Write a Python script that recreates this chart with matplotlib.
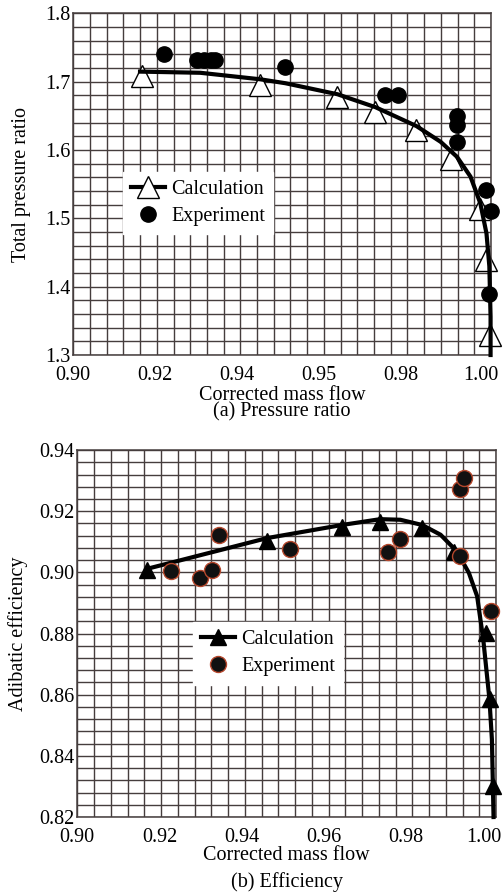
import numpy as np
import matplotlib
matplotlib.use('Agg')
from matplotlib import pyplot as plt
from matplotlib.transforms import ScaledTranslation

plt.rcParams['font.family'] = ['Liberation Serif', 'DejaVu Serif']
plt.rcParams['font.size'] = 14.5

# (a) 压比 - 计算点
calc_a_x = [0.9167, 0.9456, 0.9645, 0.9737, 0.9838, 0.9923, 0.9993, 1.0009, 1.0017]
calc_a_y = [1.708, 1.695, 1.678, 1.656, 1.629, 1.587, 1.513, 1.439, 1.330]
# 计算曲线
curve_a_x = [0.9163, 0.9310, 0.9456, 0.9518, 0.9645, 0.9738, 0.9838, 0.9897, 0.9937,
             0.9970, 0.9994, 1.0009, 1.0016, 1.0019, 1.0019]
curve_a_y = [1.7147, 1.713, 1.7035, 1.6977, 1.6816, 1.6626, 1.635, 1.612, 1.590,
             1.561, 1.522, 1.478, 1.430, 1.356, 1.300]
# 实验点
exp_a_x = [0.9222, 0.9302, 0.9320, 0.9336, 0.9346, 0.9518, 0.9760, 0.9792,
           0.9936, 0.9936, 0.9936, 1.0007, 1.0021, 1.0015]
exp_a_y = [1.740, 1.731, 1.731, 1.731, 1.731, 1.722, 1.681, 1.681,
           1.650, 1.637, 1.611, 1.542, 1.511, 1.390]

# (b) 效率
calc_b_x = [0.9169, 0.9462, 0.9645, 0.9738, 0.9840, 0.9917, 0.9996, 1.0005, 1.0012]
calc_b_y = [0.9009, 0.9101, 0.9148, 0.9166, 0.9145, 0.9068, 0.8802, 0.8585, 0.8302]
curve_b_x = [0.9177, 0.9462, 0.9645, 0.9738, 0.9787, 0.9840, 0.9885, 0.9925, 0.9954,
             0.9974, 0.9989, 1.0004, 1.0010, 1.0014]
curve_b_y = [0.9014, 0.9112, 0.9155, 0.9174, 0.9172, 0.9155, 0.9123, 0.9068, 0.8998,
             0.8922, 0.8780, 0.8585, 0.8454, 0.8200]
exp_b_x = [0.9228, 0.9299, 0.9328, 0.9344, 0.9517, 0.9757, 0.9785, 0.9932, 0.9942,
           0.9933, 1.0008]
exp_b_y = [0.9006, 0.8982, 0.9009, 0.9121, 0.9076, 0.9068, 0.9109, 0.9272, 0.9308,
           0.9054, 0.8873]

x_ticks = [0.90, 0.92, 0.94, 0.96, 0.98, 1.00]
x_labels_a = ['0.90', '0.92', '0.94', '0.95', '0.98', '1.00']
x_labels_b = ['0.90', '0.92', '0.94', '0.96', '0.98', '1.00']
y_ticks_a = [1.3, 1.4, 1.5, 1.6, 1.7, 1.8]
y_ticks_b = [0.82, 0.84, 0.86, 0.88, 0.90, 0.92, 0.94]

grid_color = '#453d3d'

fig = plt.figure(figsize=(5.03, 8.94), dpi=100)
ax1 = fig.add_axes([0.1457, 0.6029, 0.8304, 0.3822])
ax2 = fig.add_axes([0.1537, 0.0861, 0.8324, 0.4105])


def style_axes(ax, xlim, ylim, ystep):
    ax.set_xlim(*xlim)
    ax.set_ylim(*ylim)
    # 网格
    for gx in np.linspace(xlim[0], xlim[1], 26):
        ax.axvline(gx, color=grid_color, lw=1.0, zorder=0)
    for gy in np.arange(ylim[0], ylim[1] + ystep / 2, ystep):
        ax.axhline(gy, color=grid_color, lw=1.0, zorder=0)
    for s in ax.spines.values():
        s.set_color(grid_color)
        s.set_linewidth(1.1)
    ax.tick_params(axis='y', length=0, pad=2, labelsize=14.5)
    ax.tick_params(axis='x', length=0, pad=8, labelsize=14.5)


def nudge_last_xlabel(ax, dx_pt):
    lab = ax.get_xticklabels()[-1]
    lab.set_transform(lab.get_transform() + ScaledTranslation(dx_pt / 72, 0, fig.dpi_scale_trans))


# 图(a)
style_axes(ax1, (0.90, 1.002), (1.3, 1.8), 0.02)
ax1.plot(curve_a_x, curve_a_y, color='black', lw=3, zorder=3, clip_on=False)
ax1.plot(calc_a_x, calc_a_y, linestyle='none', marker='^', ms=16, mfc='white',
         mec='black', mew=1, zorder=2, clip_on=False)
ax1.plot(exp_a_x, exp_a_y, linestyle='none', marker='o', ms=11, color='black',
         zorder=4, clip_on=False)
h1, = ax1.plot([], [], color='black', lw=3, marker='^', ms=16, mfc='white', mec='black', mew=1)
h2, = ax1.plot([], [], linestyle='none', marker='o', ms=11, color='black')
leg1 = ax1.legend([h1, h2], ['Calculation', 'Experiment'], loc='upper left',
                  bbox_to_anchor=(0.119, 0.536), borderaxespad=0, numpoints=1,
                  handlelength=1.7, handletextpad=0.3, labelspacing=0.4,
                  borderpad=0.4, fancybox=False, framealpha=1, edgecolor='white',
                  fontsize=14.5)
leg1.set_zorder(5)
ax1.set_xticks(x_ticks)
ax1.set_xticklabels(x_labels_a)
nudge_last_xlabel(ax1, -1.5)
ax1.set_yticks(y_ticks_a)
ax1.set_yticklabels([f'{v:.1f}' for v in y_ticks_a])
ax1.set_ylabel('Total pressure ratio', fontsize=14.5, labelpad=10)
ax1.set_xlabel('Corrected mass flow\n(a) Pressure ratio', fontsize=14.5, labelpad=0.5,
               linespacing=0.85)

# 图(b)
style_axes(ax2, (0.90, 1.002), (0.82, 0.94), 0.004)
ax2.plot(curve_b_x, curve_b_y, color='black', lw=3, zorder=3, clip_on=False)
ax2.plot(calc_b_x, calc_b_y, linestyle='none', marker='^', ms=11, color='black',
         zorder=3, clip_on=False)
ax2.plot(exp_b_x, exp_b_y, linestyle='none', marker='o', ms=11.5, mfc='#111111',
         mec='#b4472c', mew=1, zorder=4, clip_on=False)
h3, = ax2.plot([], [], color='black', lw=3, marker='^', ms=11)
h4, = ax2.plot([], [], linestyle='none', marker='o', ms=11.5, mfc='#111111', mec='#b4472c', mew=1)
leg2 = ax2.legend([h3, h4], ['Calculation', 'Experiment'], loc='upper left',
                  bbox_to_anchor=(0.276, 0.531), borderaxespad=0, numpoints=1,
                  handlelength=1.7, handletextpad=0.3, labelspacing=0.4,
                  borderpad=0.4, fancybox=False, framealpha=1, edgecolor='white',
                  fontsize=14.5)
leg2.set_zorder(5)
ax2.set_xticks(x_ticks)
ax2.set_xticklabels(x_labels_b)
nudge_last_xlabel(ax2, -3)
ax2.set_yticks(y_ticks_b)
ax2.set_yticklabels([f'{v:.2f}' for v in y_ticks_b])
ax2.set_ylabel('Adibatic efficiency', fontsize=14.5, labelpad=8)
ax2.set_xlabel('Corrected mass flow\n(b) Efficiency', fontsize=14.5, labelpad=-1,
               linespacing=1.5)

fig.savefig('out.png', dpi=100)
